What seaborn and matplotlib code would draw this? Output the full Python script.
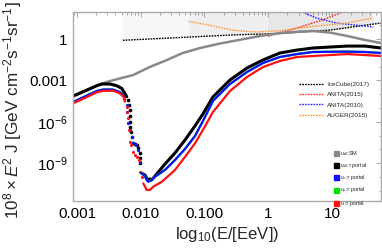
import numpy as np
import matplotlib
matplotlib.use("Agg")
import matplotlib.pyplot as plt
import matplotlib.ticker as mticker
from matplotlib.lines import Line2D
import seaborn as sns

# values, as log10(E/EeV) and log10(flux)
sm_x = [-3.06, -2.69, -2.58, -2.48, -2.12, -1.86, -1.59, -1.34, -1.07, -0.76, -0.44,
        -0.13, 0.18, 0.50, 0.70, 0.97, 1.24, 1.52, 1.77]
sm_y = [-4.13, -3.39, -3.19, -3.04, -2.61, -2.03, -1.52, -1.01, -0.65, -0.33, -0.05,
        0.22, 0.43, 0.54, 0.58, 0.47, 0.22, -0.07, -0.29]

# nu_all : tau portal (black)
blk_left_x = [-3.06, -2.88, -2.69, -2.61, -2.48, -2.38, -2.30, -2.25, -2.22]
blk_left_y = [-4.13, -3.77, -3.38, -3.26, -3.26, -3.38, -3.57, -3.93, -4.18]
blk_drop_x = [-2.195, -2.18, -2.175, -2.169, -2.169, -2.166, -2.159, -2.142, -2.117,
              -2.09, -2.064, -2.038, -2.012, -2.009, -2.004]
blk_drop_y = [-4.42, -4.78, -5.14, -5.58, -6.01, -6.38, -6.74, -7.10, -7.54,
              -7.63, -7.68, -7.92, -8.28, -8.62, -8.99]
blk_right_x = [-1.985, -1.933, -1.907, -1.882, -1.855, -1.828, -1.776, -1.62, -1.463,
               -1.306, -1.149, -1.024, -0.867, -0.60, -0.333, -0.082, 0.184, 0.451,
               0.702, 1.235, 1.518, 1.77]
blk_right_y = [-9.73, -9.86, -10.09, -10.22, -10.14, -10.22, -9.93, -9.06, -8.26,
               -7.32, -6.30, -5.43, -4.20, -2.97, -2.10, -1.52, -1.01, -0.80,
               -0.65, -0.51, -0.51, -0.65]

# nu_e : tau portal (blue); nu_mu (green) lies under it
blu_left_x = [-3.06, -2.88, -2.69, -2.59, -2.44, -2.33, -2.27, -2.25]
blu_left_y = [-4.57, -4.17, -3.77, -3.66, -3.66, -3.84, -4.09, -4.42]
blu_drop_x = [-2.22, -2.208, -2.195, -2.169, -2.145, -2.117, -2.079, -2.038, -2.012]
blu_drop_y = [-4.78, -5.29, -6.11, -6.59, -7.10, -7.56, -7.68, -8.04, -8.89]
blu_right_x = [-1.985, -1.933, -1.907, -1.882, -1.828, -1.776, -1.62, -1.463, -1.306,
               -1.149, -1.024, -0.867, -0.60, -0.333, -0.082, 0.184, 0.451, 0.702,
               1.235, 1.518, 1.77]
blu_right_y = [-9.73, -9.93, -10.22, -10.34, -10.22, -9.98, -9.49, -8.77, -7.97,
               -7.03, -5.94, -4.49, -3.26, -2.39, -1.74, -1.30, -1.09, -0.94,
               -0.91, -0.94, -1.01]
grn_left_y = blu_left_y
grn_right_y = blu_right_y

# nu_tau : tau portal (red)
red_left_x = [-3.06, -2.88, -2.69, -2.59, -2.43, -2.33, -2.27, -2.25]
red_left_y = [-4.66, -4.28, -3.86, -3.75, -3.75, -3.93, -4.18, -4.54]
red_drop_x = [-2.22, -2.208, -2.20, -2.184, -2.169, -2.153, -2.117, -2.09, -2.064,
              -2.027, -2.012, -1.985]
red_drop_y = [-4.91, -5.29, -5.72, -6.59, -7.44, -7.68, -8.17, -8.41, -8.53,
              -8.77, -9.62, -9.98]
red_right_x = [-1.96, -1.933, -1.907, -1.855, -1.803, -1.667, -1.463, -1.306, -1.149,
               -1.024, -0.867, -0.60, -0.333, -0.082, 0.184, 0.451, 0.702, 1.235,
               1.518, 1.77]
red_right_y = [-10.46, -10.70, -10.94, -10.94, -10.70, -10.34, -9.49, -8.55, -7.56,
               -6.59, -5.29, -3.77, -2.75, -2.03, -1.59, -1.30, -1.23, -1.09,
               -1.16, -1.23]

# experimental limits
ice_x = [-2.28, -1.38, -0.49, 0.18, 0.97, 1.77]
ice_y = [-0.09, 0.11, 0.31, 0.40, 0.65, 1.16]
anita15_x = [0.00, 0.45, 0.86, 1.20, 1.28]
anita15_y = [0.20, 0.80, 1.40, 2.01, 2.17]
anita10_x = [0.26, 0.45, 0.76, 1.07, 1.65]
anita10_y = [2.54, 2.12, 1.52, 1.16, 0.87]
auger_x = [-1.25, -0.91, -0.55, -0.18, 0.18, 0.70, 1.23, 1.64]
auger_y = [1.28, 0.99, 0.63, 0.51, 0.60, 0.92, 1.16, 1.52]

limit_labels = ['IceCube(2017)', 'ANITA(2015)', 'ANITA(2010)', 'AUGER(2015)']
model_labels = [r'$\nu_{all}$:SM', r'$\nu_{all}$:$\tau$ portal', r'$\nu_e$:$\tau$ portal',
                r'$\nu_\mu$:$\tau$ portal', r'$\nu_\tau$:$\tau$ portal']

sns.set_theme(style='white')
plt.rcParams['font.family'] = ['Liberation Sans', 'DejaVu Sans']
plt.rcParams['mathtext.fontset'] = 'custom'
plt.rcParams['mathtext.rm'] = 'Liberation Sans'
plt.rcParams['mathtext.it'] = 'Liberation Sans:italic'

def p(v):
    return 10 ** np.array(v)

fig = plt.figure(figsize=(3.82, 2.49), dpi=100)
ax = fig.add_axes([73 / 382, 48 / 249, 308 / 382, 189 / 249])
ax.set_xscale('log')
ax.set_yscale('log')
top = 1e3

# shaded excluded regions, bounded below by the IceCube line
for xs in [ice_x, [auger_x[0]] + [v for v in ice_x if auger_x[0] < v < auger_x[-1]] + [auger_x[-1]],
           [anita15_x[0]] + [v for v in ice_x if anita15_x[0] < v < auger_x[-1]] + [auger_x[-1]]]:
    xs = np.array(xs)
    ax.fill_between(10 ** xs, 10 ** np.interp(xs, ice_x, ice_y), top,
                    color='#777777', alpha=0.06, lw=0)

lim_style = dict(lw=1.0, linestyle=(0, (1.2, 0.8)))
sns.lineplot(x=p(ice_x), y=p(ice_y), ax=ax, color='black', sort=False, estimator=None, **lim_style)
sns.lineplot(x=p(anita15_x), y=p(anita15_y), ax=ax, color='#ff2a2a', sort=False, estimator=None, **lim_style)
sns.lineplot(x=p(anita10_x), y=p(anita10_y), ax=ax, color='#2a2aff', sort=False, estimator=None, **lim_style)
sns.lineplot(x=p(auger_x), y=p(auger_y), ax=ax, color='#ff9a3c', sort=False, estimator=None, **lim_style)

sns.lineplot(x=p(sm_x), y=p(sm_y), ax=ax, color='#888888', lw=1.8, sort=False, estimator=None)

series = [
    ('black', 2.2, 7, blk_left_x, blk_left_y, blk_drop_x, blk_drop_y, blk_right_x, blk_right_y),
    ('#00e000', 1.6, 5, blu_left_x, grn_left_y, blu_drop_x, blu_drop_y, blu_right_x, grn_right_y),
    ('#1010ff', 1.6, 5, blu_left_x, blu_left_y, blu_drop_x, blu_drop_y, blu_right_x, blu_right_y),
    ('#ff1010', 1.6, 5, red_left_x, red_left_y, red_drop_x, red_drop_y, red_right_x, red_right_y),
]
for col, lw, ms, lx, ly, dx, dy, rx, ry in series:
    sns.lineplot(x=p(lx), y=p(ly), ax=ax, color=col, lw=lw, sort=False, estimator=None)
    sns.scatterplot(x=p(dx), y=p(dy), ax=ax, color=col, s=ms, linewidth=0)
    sns.lineplot(x=p(rx), y=p(ry), ax=ax, color=col, lw=lw, sort=False, estimator=None)

ax.set_xlim(10 ** -3.063, 10 ** 1.77)
ax.set_ylim(10 ** -11.74, 10 ** 1.96)

ax.set_xticks([1e-3, 1e-2, 1e-1, 1, 10])
ax.set_xticklabels(['0.001', '0.010', '0.100', '1', '10'])
ax.xaxis.set_minor_locator(mticker.LogLocator(base=10, subs=np.arange(2, 10), numticks=20))
ax.xaxis.set_minor_formatter(mticker.NullFormatter())
ax.set_yticks([1e-9, 1e-6, 1e-3, 1])
ax.set_yticklabels([r'$10^{-9}$', r'$10^{-6}$', '0.001', '1'])
ax.yaxis.set_minor_locator(mticker.LogLocator(base=10, subs=(1.0,), numticks=30))
ax.yaxis.set_minor_formatter(mticker.NullFormatter())
ax.tick_params(which='both', direction='in', color='#999999', width=0.6,
               top=True, right=True, labelsize=11, labelcolor='black', pad=4)
ax.tick_params(which='major', length=3.5)
ax.tick_params(which='minor', length=1.8)
for s in ax.spines.values():
    s.set_color('#aaaaaa')
    s.set_linewidth(1.0)

ax.set_xlabel(r'log$_{10}$(E/[EeV])', fontsize=12, labelpad=3)
fig.text(13 / 382, 30 / 249, r'$10^8\times E^2$ J [GeV cm$^{-2}$s$^{-1}$sr$^{-1}$]',
         rotation=90, ha='center', va='bottom', fontsize=12.3)

h1 = [Line2D([], [], color=c, **lim_style) for c in ['black', '#ff2a2a', '#2a2aff', '#ff9a3c']]
leg1 = ax.legend(h1, limit_labels, loc='upper left', bbox_to_anchor=(0.725, 0.645),
                 fontsize=4.6, frameon=False, handlelength=4.0, handletextpad=0.4,
                 labelspacing=0.75, borderaxespad=0)
ax.add_artist(leg1)
h2 = [Line2D([], [], color=c, marker='s', linestyle='none', markersize=3.6)
      for c in ['#888888', 'black', '#1010ff', '#00e000', '#ff1010']]
ax.legend(h2, model_labels, loc='upper left', bbox_to_anchor=(0.84, 0.285),
          fontsize=4.0, frameon=False, handlelength=0.8, handletextpad=0.3,
          labelspacing=0.55, borderaxespad=0)

fig.savefig('out.png', dpi=100)
